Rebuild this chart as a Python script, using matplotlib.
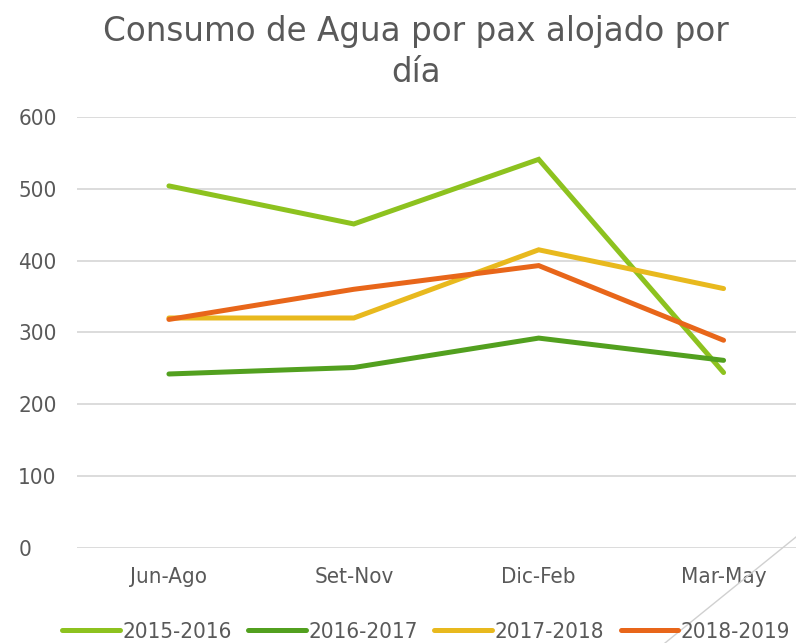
import matplotlib
matplotlib.use("Agg")
import matplotlib.pyplot as plt
from matplotlib.lines import Line2D

categories = ["Jun-Ago", "Set-Nov", "Dic-Feb", "Mar-May"]
s2015 = [504, 451, 541, 244]
s2016 = [242, 251, 292, 261]
s2017 = [320, 320, 415, 361]
s2018 = [318, 360, 393, 289]
series_names = ["2015-2016", "2016-2017", "2017-2018", "2018-2019"]
colors = ["#8DC21F", "#52A01F", "#E8B91E", "#E8661A"]

W, H = 796, 643
fig = plt.figure(figsize=(W / 100, H / 100), dpi=100)

# plot area runs past the right edge, like the cropped original
left, right = 76.5, 816
top, bottom = 117, 547.7
ax = fig.add_axes([left / W, 1 - bottom / H, (right - left) / W, (bottom - top) / H])

x = range(len(categories))
for vals, name, c in zip([s2015, s2016, s2017, s2018], series_names, colors):
    ax.plot(x, vals, color=c, lw=3.6, label=name, solid_capstyle="round", solid_joinstyle="miter")

ax.set_xlim(-0.5, 3.5)
ax.set_ylim(0, 600)
ax.set_yticks(range(0, 601, 100))
ax.set_xticks(list(x))
ax.set_xticklabels(categories)
ax.grid(axis="y", color="#D9D9D9", lw=1.3)
ax.set_axisbelow(True)
for sp in ax.spines.values():
    sp.set_visible(False)
ax.tick_params(length=0, colors="#595959", labelsize=16)
ax.tick_params(axis="x", pad=14)
ax.tick_params(axis="y", pad=42)
for lab in ax.get_xticklabels() + ax.get_yticklabels():
    lab.set_fontstretch("condensed")
for lab in ax.get_yticklabels():
    lab.set_horizontalalignment("left")

fig.text(416 / W, 1 - 52 / H, "Consumo de Agua por pax alojado por\ndía", ha="center", va="center",
         fontsize=23.5, color="#595959", linespacing=1.32)

leg = fig.legend(loc="center", bbox_to_anchor=(426 / W, 1 - 632 / H), ncol=4, frameon=False,
                 handlelength=2.6, handletextpad=0.1, columnspacing=0.75,
                 prop={"size": 16, "stretch": "condensed"})
for t in leg.get_texts():
    t.set_color("#595959")

fig.add_artist(Line2D([1.0, 665 / W], [1 - 537 / H, 0.0], transform=fig.transFigure,
                      color="#D0D0D0", lw=1))

fig.savefig("out.png", dpi=100)
